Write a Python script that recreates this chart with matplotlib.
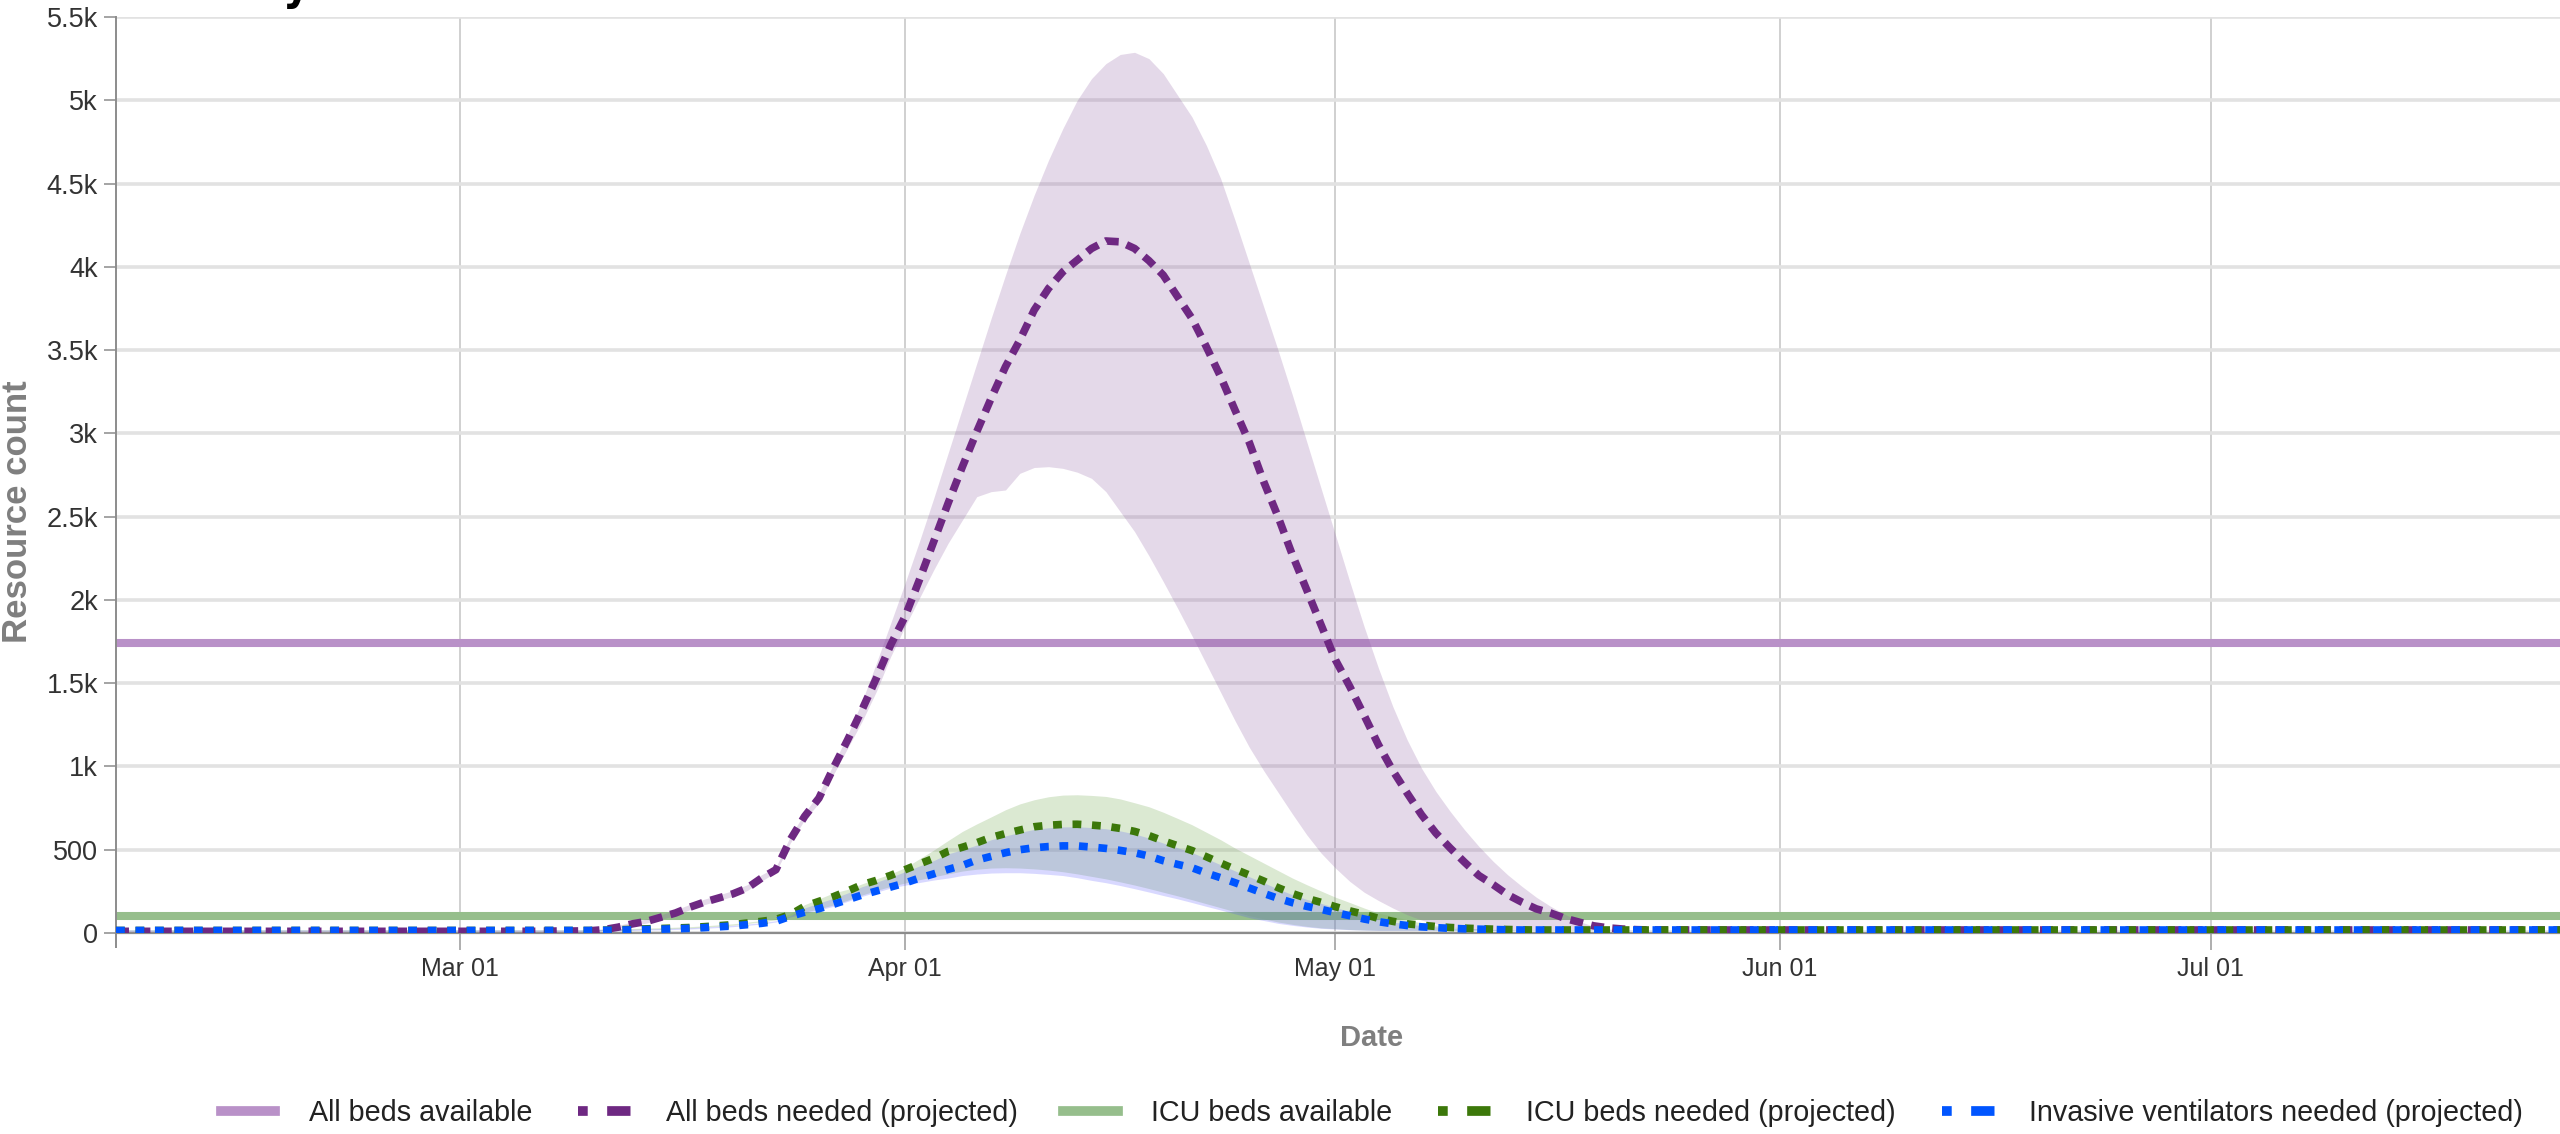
import matplotlib
matplotlib.use('Agg')
import matplotlib.pyplot as plt
import matplotlib.dates as mdates
from matplotlib.lines import Line2D
import pandas as pd

plt.rcParams['font.family'] = ['Liberation Sans', 'DejaVu Sans']

# x: one flat point in Feb, daily Mar 06 .. May 25, one flat point at the end
dates = (pd.to_datetime(['2020-02-06'])
         .append(pd.date_range('2020-03-06', '2020-05-25'))
         .append(pd.to_datetime(['2020-07-30'])))

all_beds_available = 1740
icu_beds_available = 105

# all beds needed (projected) + uncertainty band
beds_need = [10,
             10, 11, 12, 12, 13, 20, 35, 55, 70, 95,
             120, 155, 185, 210, 235, 270, 330, 380, 560, 700,
             810, 990, 1160, 1340, 1530, 1730, 1900, 2120, 2350, 2580,
             2800, 3010, 3210, 3400, 3560, 3740, 3870, 3970, 4040, 4110,
             4155, 4150, 4110, 4037, 3950, 3820, 3690, 3520, 3340, 3140,
             2945, 2710, 2500, 2270, 2060, 1850, 1640, 1480, 1307, 1130,
             975, 840, 710, 600, 510, 425, 345, 290, 230, 185,
             145, 120, 88, 65, 43, 31, 24, 20, 18, 18,
             18,
             18]
beds_hi = [12,
           12, 13, 14, 15, 17, 25, 45, 68, 85, 110,
           138, 172, 203, 228, 255, 290, 350, 395, 580, 720,
           840, 1010, 1190, 1390, 1620, 1860, 2100, 2350, 2610, 2880,
           3150, 3420, 3690, 3950, 4200, 4430, 4640, 4830, 5000, 5130,
           5220, 5275, 5288, 5250, 5160, 5030, 4900, 4730, 4530, 4280,
           4020, 3760, 3500, 3230, 2950, 2670, 2390, 2110, 1840, 1590,
           1360, 1160, 990, 850, 730, 620, 520, 430, 350, 280,
           215, 160, 112, 70, 40, 24, 20, 19, 18, 18,
           18,
           18]
beds_lo = [8,
           8, 9, 10, 10, 11, 16, 28, 45, 60, 82,
           106, 140, 170, 195, 220, 255, 312, 365, 540, 680,
           780, 950, 1110, 1270, 1450, 1660, 1840, 2010, 2180, 2340,
           2480, 2620, 2650, 2660, 2760, 2795, 2800, 2790, 2767, 2730,
           2650, 2530, 2410, 2265, 2110, 1950, 1785, 1615, 1445, 1275,
           1115, 975, 845, 715, 590, 480, 390, 310, 245, 195,
           150, 110, 78, 55, 38, 25, 20, 18, 18, 18,
           18, 18, 18, 18, 18, 18, 18, 18, 18, 18,
           18,
           18]

# ICU beds needed (projected) + band
icu_need = [15,
            15, 15, 15, 15, 15, 17, 19, 22, 25, 27,
            30, 33, 38, 44, 50, 60, 70, 82, 110, 160,
            190, 218, 252, 290, 316, 346, 380, 415, 448, 490,
            515, 542, 574, 597, 618, 638, 647, 652, 653, 648,
            641, 628, 610, 585, 553, 524, 495, 458, 420, 383,
            348, 312, 272, 237, 208, 184, 158, 133, 112, 88,
            70, 55, 47, 39, 33, 29, 26, 23, 21, 19,
            18, 18, 18, 18, 18, 18, 18, 18, 18, 18,
            18,
            18]
icu_hi = [20,
          20, 20, 20, 20, 20, 22, 24, 27, 30, 32,
          35, 38, 43, 49, 55, 65, 75, 87, 115, 170,
          205, 240, 262, 295, 325, 355, 392, 445, 498, 555,
          610, 655, 697, 740, 775, 800, 818, 828, 830, 826,
          820, 805, 782, 758, 725, 688, 650, 605, 560, 510,
          465, 420, 375, 330, 290, 252, 215, 183, 150, 120,
          100, 80, 60, 48, 38, 30, 25, 22, 20, 18,
          18, 18, 18, 18, 18, 18, 18, 18, 18, 18,
          18,
          18]
icu_lo = [12,
          12, 12, 12, 12, 12, 14, 16, 19, 22, 24,
          27, 30, 35, 41, 47, 57, 67, 79, 105, 125,
          145, 168, 197, 228, 255, 280, 300, 320, 338, 355,
          372, 383, 390, 392, 390, 385, 378, 368, 355, 340,
          325, 307, 288, 267, 245, 223, 200, 176, 152, 128,
          104, 85, 66, 52, 40, 31, 26, 21, 18, 16,
          16, 16, 16, 16, 16, 16, 16, 16, 16, 16,
          16, 16, 16, 16, 16, 16, 16, 16, 16, 16,
          16,
          16]

# invasive ventilators needed (projected) + band
vent_need = [15,
             15, 15, 15, 15, 15, 16, 17, 19, 21, 23,
             25, 28, 32, 37, 42, 50, 58, 70, 100, 125,
             146, 172, 200, 228, 252, 276, 300, 330, 355, 382,
             406, 438, 460, 482, 500, 512, 519, 523, 523, 516,
             508, 496, 482, 462, 434, 412, 392, 360, 332, 302,
             270, 238, 208, 182, 160, 142, 122, 104, 84, 68,
             55, 45, 37, 32, 28, 25, 23, 21, 19, 18,
             18, 18, 18, 18, 18, 18, 18, 18, 18, 18,
             18,
             18]
vent_hi = [19,
           19, 19, 19, 19, 19, 20, 21, 23, 25, 27,
           29, 32, 36, 41, 46, 54, 62, 74, 104, 150,
           180, 208, 240, 278, 305, 335, 368, 402, 435, 475,
           500, 528, 560, 583, 604, 622, 632, 637, 638, 633,
           626, 613, 595, 570, 540, 512, 483, 447, 410, 373,
           338, 302, 264, 230, 202, 178, 153, 129, 108, 85,
           67, 53, 45, 37, 31, 27, 24, 21, 19, 17,
           17, 17, 17, 17, 17, 17, 17, 17, 17, 17,
           17,
           17]
vent_lo = [11,
           11, 11, 11, 11, 11, 12, 13, 15, 17, 19,
           21, 24, 28, 33, 38, 46, 54, 66, 96, 118,
           138, 160, 190, 220, 245, 270, 287, 303, 318, 330,
           345, 354, 360, 362, 362, 358, 352, 345, 332, 316,
           302, 285, 266, 246, 225, 205, 183, 160, 138, 115,
           92, 75, 58, 46, 36, 28, 24, 20, 17, 15,
           15, 15, 15, 15, 15, 15, 15, 15, 15, 15,
           15, 15, 15, 15, 15, 15, 15, 15, 15, 15,
           15,
           15]

legend_labels = ['All beds available', 'All beds needed (projected)',
                 'ICU beds available', 'ICU beds needed (projected)',
                 'Invasive ventilators needed (projected)']
ytick_vals = [0, 500, 1000, 1500, 2000, 2500, 3000, 3500, 4000, 4500, 5000, 5500]
ytick_labels = ['0', '500', '1k', '1.5k', '2k', '2.5k', '3k', '3.5k',
                '4k', '4.5k', '5k', '5.5k']
xtick_dates = pd.to_datetime(['2020-03-01', '2020-04-01', '2020-05-01',
                              '2020-06-01', '2020-07-01'])

c_beds_av = '#b991c8'
c_beds = '#6e2882'
c_icu_av = '#96be8c'
c_icu = '#3c780a'
c_vent = '#0055ff'

W, H = 2560, 1134
fig = plt.figure(figsize=(W / 100, H / 100), dpi=100)
# plot area runs past the right edge of the picture (the reference is cropped)
ax = fig.add_axes([116 / W, (H - 933) / H, (2628 - 116) / W, (933 - 17) / H])

ax.axhline(all_beds_available, color=c_beds_av, lw=5.8, zorder=2)
ax.axhline(icu_beds_available, color=c_icu_av, lw=5.8, zorder=2)

ax.fill_between(dates, beds_lo, beds_hi, color='#8e5ba3', alpha=0.23, lw=0, zorder=3)
ax.fill_between(dates, icu_lo, icu_hi, color='#7fb05f', alpha=0.28, lw=0, zorder=3)
ax.fill_between(dates, vent_lo, vent_hi, color='#5050ff', alpha=0.22, lw=0, zorder=3)

ax.plot(dates, beds_need, color=c_beds, lw=5.5, dashes=(1.7, 1.1), zorder=4)
ax.plot(dates, icu_need, color=c_icu, lw=5.5, dashes=(1.15, 1.4), zorder=5)
ax.plot(dates, vent_need, color=c_vent, lw=5.5, dashes=(1.15, 1.4), zorder=6)

x0 = pd.Timestamp('2020-03-01') - pd.Timedelta(days=24.0)
x1 = pd.Timestamp('2020-07-01') + pd.Timedelta(days=29.1)
ax.set_xlim(x0, x1)
ax.set_ylim(0, 5500)

ax.set_yticks(ytick_vals)
ax.set_yticklabels(ytick_labels)
ax.set_xticks(xtick_dates)
ax.xaxis.set_major_formatter(mdates.DateFormatter('%b %d'))
ax.set_xticks([x0], minor=True)

ax.set_axisbelow(True)
ax.yaxis.grid(True, color='#e2e2e2', lw=2.6)
ax.xaxis.grid(True, color='#d0d0d0', lw=1.4)
for s in ['top', 'right']:
    ax.spines[s].set_visible(False)
ax.spines['left'].set_color('#8c8c8c')
ax.spines['left'].set_linewidth(1.4)
ax.spines['bottom'].set_color('#8c8c8c')
ax.spines['bottom'].set_linewidth(1.6)

ax.tick_params(axis='y', length=8.6, width=1.1, color='#8c8c8c', pad=4.3,
               labelsize=19.5, labelcolor='#333333')
ax.tick_params(axis='x', which='major', length=12, width=1.1, color='#999999',
               pad=5, labelsize=18, labelcolor='#333333')
ax.tick_params(axis='x', which='minor', length=11, width=1.4, color='#8c8c8c')

ax.set_ylabel('Resource count', fontsize=25, fontweight='bold', color='#7f7f7f')
ax.yaxis.set_label_coords(-0.0326, 0.46)
ax.set_xlabel('Date', fontsize=21, fontweight='bold', color='#7f7f7f')
ax.xaxis.set_label_coords(0.5, -0.0993)

dash_handle = (1.0, 2.0, 2.4, 20)
handles = [Line2D([], [], color=c_beds_av, lw=7),
           Line2D([], [], color=c_beds, lw=7, dashes=dash_handle),
           Line2D([], [], color=c_icu_av, lw=7),
           Line2D([], [], color=c_icu, lw=7, dashes=dash_handle),
           Line2D([], [], color=c_vent, lw=7, dashes=dash_handle)]
leg = ax.legend(handles, legend_labels, loc='center', bbox_to_anchor=(0.5, -0.1965),
                ncol=5, frameon=False, fontsize=20.7, handlelength=1.9,
                handletextpad=1.15, columnspacing=1.6)
for t in leg.get_texts():
    t.set_color('#222222')

# descender of the cropped-off title above the chart
fig.text(283 / W, 1.0, 'y', fontsize=30, fontweight='bold', color='black',
         va='baseline', ha='left', family=['DejaVu Sans'])

fig.savefig('out.png', dpi=100)
